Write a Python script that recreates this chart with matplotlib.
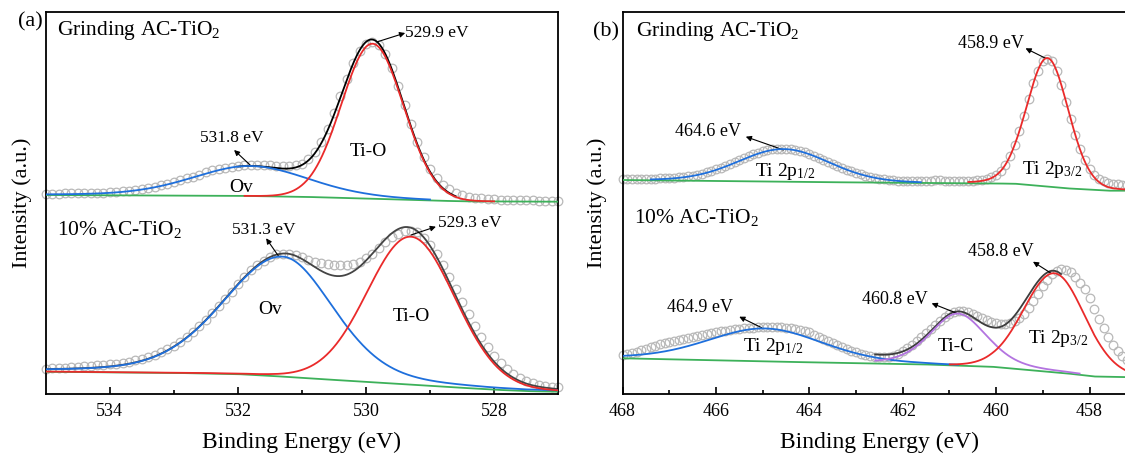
import numpy as np
import matplotlib
matplotlib.use("Agg")
import matplotlib.pyplot as plt

plt.rcParams['font.family'] = ['Liberation Serif', 'DejaVu Serif']
plt.rcParams['mathtext.fontset'] = 'custom'
plt.rcParams['mathtext.rm'] = 'Liberation Serif'
plt.rcParams['mathtext.it'] = 'Liberation Serif:italic'

# ---------------- (a) O 1s ----------------
o1s_ev = np.linspace(535.0, 527.0, 81)
# measured counts (a.u.), grinding sample (relative to its own baseline)
o1s_grind = np.array([8, 8, 8, 8.5, 8.5, 8.5, 8.5, 9, 9, 9,
                      9.5, 10, 10.5, 11, 12, 13, 14, 15, 16.5, 18,
                      20, 21.5, 23.5, 25, 27, 29.5, 31.5, 33, 34, 35,
                      36, 36.5, 36.5, 36.5, 36.5, 36.5, 36, 35.5, 35.5, 36.5,
                      38, 43, 50, 60, 73, 89, 106, 123, 139, 151,
                      158, 160, 157, 148, 134, 116, 97, 78, 60, 45,
                      33, 24, 17, 12.5, 9, 7, 5, 4, 3.5, 3,
                      2.5, 2, 2, 1.5, 1.5, 1.5, 1.5, 1, 1, 1, 1])
# measured counts, 10% AC-TiO2
o1s_ac10 = np.array([25.5, 26, 26.5, 26.5, 27, 27.5, 28, 28.5, 29, 29.5,
                     30, 30.5, 31.5, 32.5, 34, 35.5, 37.5, 39.5, 42, 45,
                     48.5, 52.5, 57, 62.5, 68, 74.5, 81, 88, 95, 102.5,
                     110, 117, 124, 129, 133, 137, 140, 140.5, 140, 139,
                     137, 134.5, 132, 131, 130, 129.5, 129, 129.5, 130, 132.5,
                     136, 140.5, 146, 152, 157, 160.5, 163, 163, 162, 156,
                     149, 140, 129, 117, 105, 92.5, 80, 68, 57, 47,
                     38, 31, 25, 20, 16, 13, 11, 9.5, 8, 7.5, 7])

o1s_grind_bg_ev = [535, 532, 531, 530, 529, 528.5, 527]
o1s_grind_bg = [6.7, 5.9, 4.9, 3.2, 1.2, 0.4, 0]
o1s_ac10_bg_ev = [535, 533, 532, 531.5, 531, 530, 529, 528, 527.5, 527]
o1s_ac10_bg = [22.6, 21.4, 20.2, 18.5, 16.4, 12.4, 8.4, 4.6, 3.2, 2.6]

# fitted peaks: name, centre (eV), height, hwhm high-BE side, hwhm low-BE side, lorentz fraction, window
o1s_grind_peaks = [('Ov', 531.8, 30, 1.07, 1.07, 0.2, (535.0, 529.0)),
                   ('Ti-O', 529.9, 155, 0.57, 0.57, 0.0, (531.9, 528.0))]
o1s_ac10_peaks = [('Ov', 531.3, 120, 1.10, 0.93, 0.25, (535.0, 527.0)),
                  ('Ti-O', 529.3, 148, 0.81, 0.81, 0.05, (535.0, 527.0))]

# ---------------- (b) Ti 2p ----------------
ti2p_ev = np.linspace(468.0, 457.0, 111)
ti2p_grind = np.array([12, 12, 12, 11.5, 11.5, 11.5, 12, 12, 12.5, 12.5,
                       13, 13, 13.5, 14, 14.5, 15, 16, 17, 18.5, 20,
                       21.5, 23, 25, 27, 29, 31, 33, 35, 36.5, 38,
                       39.5, 40.5, 41.5, 42, 42, 42, 42, 41, 40, 38.5,
                       37, 35, 33, 31, 29, 27, 25, 23, 21, 19.5,
                       18, 16.5, 15, 14, 13, 12, 11.5, 11, 10.5, 10,
                       10, 9.5, 9.5, 9.5, 9.5, 10, 10, 10.5, 10.5, 10,
                       10, 10, 10, 10, 10, 10, 10.5, 11, 12, 13.5,
                       16, 20, 26, 35, 46, 60, 75, 92, 108, 120,
                       130, 132, 130, 120, 106, 89, 72, 56, 42, 31,
                       22, 16, 12, 9.5, 8, 7, 6.5, 6, 5.5, 5, 5])
ti2p_ac10 = np.array([39, 40, 41, 42.5, 44, 45.5, 47, 48.5, 50, 51,
                      52, 53, 54, 55, 56, 57, 58, 59, 60, 61,
                      62, 63, 63.5, 64, 65, 65.5, 66, 66, 66.5, 67,
                      67, 67, 67, 67, 67, 66.5, 66, 65.5, 64.5, 63.5,
                      62, 59.5, 57, 55, 53, 51, 49, 47, 45.5, 43.5,
                      42, 40.5, 39, 38, 37.5, 37, 37, 37.5, 38.5, 40.5,
                      43, 46, 49, 53, 57, 61, 65, 69, 73, 77,
                      80, 82, 83, 83, 82, 80, 78, 76, 74, 72.5,
                      71, 70.5, 70, 71, 73, 76, 80, 86, 93, 100,
                      108, 114, 120, 123, 125, 124.5, 122, 117, 111, 105,
                      96, 85, 75, 66, 57, 49, 43, 38, 34, 31, 28])

ti2p_grind_bg_ev = [468, 464.7, 462.4, 460.4, 459.6, 458.5, 457.6, 457]
ti2p_grind_bg = [10.7, 9.0, 8.0, 7.4, 7.0, 2.4, 0, 0]
ti2p_ac10_bg_ev = [468, 464.7, 461.6, 460.1, 458.5, 457.9, 457]
ti2p_ac10_bg = [36, 32.6, 30, 27.6, 21, 17.8, 17]

ti2p_grind_peaks = [('2p1/2', 464.55, 32.7, 1.15, 1.15, 0.1, (467.4, 461.6)),
                    ('2p3/2', 458.9, 128.6, 0.53, 0.53, 0.1, (460.6, 457.0))]
ti2p_ac10_peaks = [('2p1/2', 464.95, 33, 1.45, 1.45, 0.2, (468.0, 460.8)),
                   ('Ti-C', 460.82, 52, 0.70, 0.72, 0.35, (462.6, 458.2)),
                   ('2p3/2', 458.75, 99, 0.78, 0.76, 0.05, (461.0, 457.0))]

GREEN = '#3db15a'
BLUE = '#1e6fdc'
RED = '#ea2a2a'
PURPLE = '#b374e0'
GRAY = '#b8b8b8'


def pv(x, c, h, w_hi, w_lo, eta):
    w = np.where(x >= c, w_hi, w_lo)
    u = ((x - c) / w) ** 2
    return h * ((1 - eta) * np.exp(-np.log(2) * u) + eta / (1 + u))


def draw(ax, ev, data, bg_ev, bg_val, peaks, colors, env_win, env_col, off):
    ax.plot(ev, data + off, 'o', mfc='none', mec=GRAY, ms=6.2, mew=0.9, zorder=1,
            clip_on=False)
    fine = np.linspace(ev[0], ev[-1], 800)
    bg = np.interp(fine, bg_ev[::-1], bg_val[::-1])
    comps = [pv(fine, *p[1:6]) for p in peaks]
    total = bg + sum(comps)
    if env_win is not None:
        m = (fine <= env_win[0]) & (fine >= env_win[1])
        ax.plot(fine[m], total[m] + off, color=env_col, lw=1.3, zorder=2)
    ax.plot(fine, bg + off, color=GREEN, lw=1.3, zorder=3)
    for p, comp, col in zip(peaks, comps, colors):
        m = (fine <= p[6][0]) & (fine >= p[6][1])
        ax.plot(fine[m], bg[m] + comp[m] + off, color=col, lw=1.3, zorder=4)


fig = plt.figure(figsize=(11.25, 4.53), dpi=100)
W, H = 1125.0, 453.0
top, bot = 11.7, 394.3
ax_a = fig.add_axes([45.7 / W, (H - bot) / H, (558.3 - 45.7) / W, (bot - top) / H])
ax_b = fig.add_axes([622.5 / W, (H - bot) / H, 513.7 / W, (bot - top) / H])

draw(ax_a, o1s_ev, o1s_grind, np.array(o1s_grind_bg_ev), np.array(o1s_grind_bg),
     o1s_grind_peaks, [BLUE, RED], (532.0, 528.6), 'black', 192.6)
draw(ax_a, o1s_ev, o1s_ac10, np.array(o1s_ac10_bg_ev), np.array(o1s_ac10_bg),
     o1s_ac10_peaks, [BLUE, RED], (535.0, 527.0), '#444444', 0)
draw(ax_b, ti2p_ev, ti2p_grind, np.array(ti2p_grind_bg_ev), np.array(ti2p_grind_bg),
     ti2p_grind_peaks, [BLUE, RED], None, 'black', 203.6)
draw(ax_b, ti2p_ev, ti2p_ac10, np.array(ti2p_ac10_bg_ev), np.array(ti2p_ac10_bg),
     ti2p_ac10_peaks, [BLUE, PURPLE, RED], (462.6, 458.6), '#3c3c3c', 0)

for ax, lo, hi in [(ax_a, 535, 527), (ax_b, 468, 457)]:
    ax.set_xlim(lo, hi)
    ax.set_ylim(0, bot - top)
    ax.set_yticks([])
    for s in ax.spines.values():
        s.set_linewidth(1.3)
    ax.tick_params(axis='x', which='major', direction='in', length=5, width=1.2,
                   labelsize=13, pad=6)
    ax.tick_params(axis='x', which='minor', direction='in', length=3, width=1.2)

ax_a.set_xticks([534, 532, 530, 528])
ax_a.set_xticks([533, 531, 529], minor=True)
ax_b.set_xticks([468, 466, 464, 462, 460, 458])
ax_b.set_xticks([467, 465, 463, 461, 459, 457], minor=True)

for x in (302 / W, 879 / W):
    fig.text(x, 1 - 442 / H, 'Binding Energy (eV)', ha='center', va='center', fontsize=17)
for x in (22 / W, 597 / W):
    fig.text(x, 1 - 203 / H, 'Intensity (a.u.)', ha='center', va='center',
             rotation=90, fontsize=16)
fig.text(30 / W, 1 - 22 / H, '(a)', ha='center', va='center', fontsize=16)
fig.text(606 / W, 1 - 31.7 / H, '(b)', ha='center', va='center', fontsize=16)

arr = dict(arrowstyle='-|>', color='black', lw=0.8, mutation_scale=8, shrinkA=0, shrinkB=0)

# panel (a) labels
ax_a.text(534.82, 364.3, r'Grinding AC-TiO$_2$', fontsize=15.5, va='center')
ax_a.text(534.82, 164.3, r'10% AC-TiO$_2$', fontsize=15.5, va='center')
ax_a.text(532.1, 256.3, '531.8 eV', fontsize=12.5, ha='center', va='center')
ax_a.annotate('', xy=(532.06, 244.3), xytext=(531.81, 229.3), arrowprops=arr)
ax_a.text(529.39, 361.3, '529.9 eV', fontsize=12.5, ha='left', va='center')
ax_a.annotate('', xy=(529.39, 361.3), xytext=(529.82, 352.6), arrowprops=arr)
ax_a.text(529.96, 242.3, 'Ti-O', fontsize=14, ha='center', va='center')
ax_a.text(531.95, 206.3, 'Ov', fontsize=14, ha='center', va='center')
ax_a.text(531.59, 164.3, '531.3 eV', fontsize=12.5, ha='center', va='center')
ax_a.annotate('', xy=(531.56, 156), xytext=(531.36, 137.6), arrowprops=arr)
ax_a.text(528.88, 171, '529.3 eV', fontsize=12.5, ha='left', va='center')
ax_a.annotate('', xy=(528.91, 167.6), xytext=(529.3, 159.3), arrowprops=arr)
ax_a.text(531.5, 84.3, 'Ov', fontsize=14, ha='center', va='center')
ax_a.text(529.3, 77.6, 'Ti-O', fontsize=14, ha='center', va='center')

# panel (b) labels
ax_b.text(467.72, 362.6, r'Grinding AC-TiO$_2$', fontsize=15.5, va='center')
ax_b.text(467.75, 177.3, r'10% AC-TiO$_2$', fontsize=15.5, va='center')
ax_b.text(466.17, 262.6, '464.6 eV', fontsize=13, ha='center', va='center')
ax_b.annotate('', xy=(465.36, 257.6), xytext=(464.55, 244.3), arrowprops=arr)
ax_b.text(464.51, 222.6, r'Ti 2p$_{1/2}$', fontsize=14, ha='center', va='center')
ax_b.text(460.11, 351, '458.9 eV', fontsize=13, ha='center', va='center')
ax_b.annotate('', xy=(459.37, 346), xytext=(458.94, 336), arrowprops=arr)
ax_b.text(458.8, 224.3, r'Ti 2p$_{3/2}$', fontsize=14, ha='center', va='center')
ax_b.text(466.34, 87, '464.9 eV', fontsize=13, ha='center', va='center')
ax_b.annotate('', xy=(465.5, 77.6), xytext=(465.02, 66.6), arrowprops=arr)
ax_b.text(464.78, 47.6, r'Ti 2p$_{1/2}$', fontsize=14, ha='center', va='center')
ax_b.text(462.17, 94.3, '460.8 eV', fontsize=13, ha='center', va='center')
ax_b.annotate('', xy=(461.38, 91), xytext=(460.84, 81), arrowprops=arr)
ax_b.text(460.86, 47.6, 'Ti-C', fontsize=14, ha='center', va='center')
ax_b.text(459.9, 142.6, '458.8 eV', fontsize=13, ha='center', va='center')
ax_b.annotate('', xy=(459.21, 132.6), xytext=(458.82, 121), arrowprops=arr)
ax_b.text(458.67, 56, r'Ti 2p$_{3/2}$', fontsize=14, ha='center', va='center')

fig.savefig('out.png', dpi=100)
